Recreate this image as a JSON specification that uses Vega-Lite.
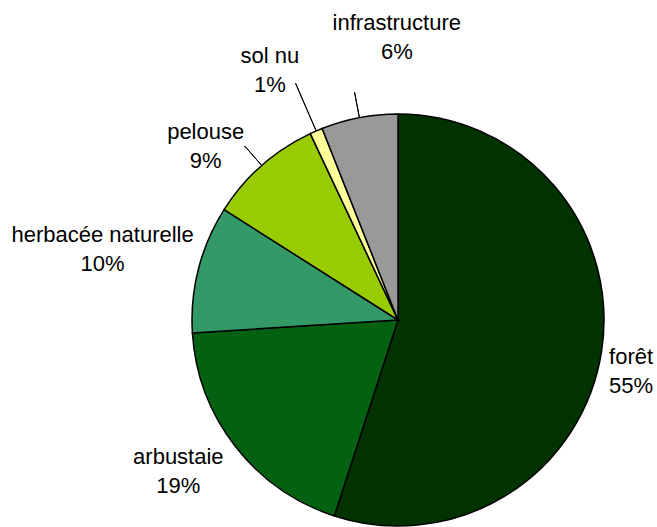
{
  "$schema": "https://vega.github.io/schema/vega-lite/v6.json",
  "width": 400,
  "height": 400,
  "autosize": "none",
  "padding": {"left": 198, "top": 120, "right": 59, "bottom": 7},
  "background": "white",
  "config": {"view": {"stroke": null}},
  "data": {
    "values": [
      {"name": "forêt", "share": 55},
      {"name": "arbustaie", "share": 19},
      {"name": "herbacée naturelle", "share": 10},
      {"name": "pelouse", "share": 9},
      {"name": "sol nu", "share": 1},
      {"name": "infrastructure", "share": 6}
    ]
  },
  "transform": [
    {"stack": "share", "groupby": [], "as": ["a0", "a1"]},
    {"calculate": "(datum.a0 + datum.a1) / 2", "as": "mid"},
    {"calculate": "datum.name + '\\n' + datum.share + '%'", "as": "label"}
  ],
  "layer": [
    {
      "mark": {"type": "arc", "outerRadius": 206, "stroke": "black", "strokeWidth": 1.5},
      "encoding": {
        "theta": {"field": "a0", "type": "quantitative", "scale": {"domain": [0, 100]}},
        "theta2": {"field": "a1"},
        "color": {
          "field": "name",
          "type": "nominal",
          "legend": null,
          "scale": {
            "domain": ["forêt", "arbustaie", "herbacée naturelle", "pelouse", "sol nu", "infrastructure"],
            "range": ["#003300", "#036211", "#339966", "#99cc00", "#ffff99", "#999999"]
          }
        }
      }
    },
    {
      "transform": [{"filter": "datum.name == 'pelouse' || datum.name == 'infrastructure'"}],
      "mark": {"type": "arc", "innerRadius": 206, "outerRadius": 232, "stroke": "black", "strokeWidth": 1, "fill": null},
      "encoding": {
        "theta": {"field": "mid", "type": "quantitative"},
        "theta2": {"field": "mid"}
      }
    },
    {
      "transform": [{"filter": "datum.name == 'sol nu'"}],
      "mark": {"type": "arc", "innerRadius": 206, "outerRadius": 258, "stroke": "black", "strokeWidth": 1, "fill": null},
      "encoding": {
        "theta": {"field": "mid", "type": "quantitative"},
        "theta2": {"field": "mid"}
      }
    },
    {
      "transform": [{"filter": "datum.name == 'forêt'"}],
      "mark": {"type": "text", "font": "Liberation Sans", "fontSize": 22, "lineHeight": 29, "lineBreak": "\n", "baseline": "middle", "align": "center"},
      "encoding": {
        "theta": {"field": "mid", "type": "quantitative"},
        "radius": {"value": 236},
        "text": {"field": "label"}
      }
    },
    {
      "transform": [{"filter": "datum.name == 'arbustaie'"}],
      "mark": {"type": "text", "font": "Liberation Sans", "fontSize": 22, "lineHeight": 29, "lineBreak": "\n", "baseline": "middle", "align": "center", "dy": -33},
      "encoding": {
        "theta": {"field": "mid", "type": "quantitative"},
        "radius": {"value": 278},
        "text": {"field": "label"}
      }
    },
    {
      "transform": [{"filter": "datum.name == 'herbacée naturelle'"}],
      "mark": {"type": "text", "font": "Liberation Sans", "fontSize": 22, "lineHeight": 29, "lineBreak": "\n", "baseline": "middle", "align": "center", "dy": -9},
      "encoding": {
        "theta": {"field": "mid", "type": "quantitative"},
        "radius": {"value": 305},
        "text": {"field": "label"}
      }
    },
    {
      "transform": [{"filter": "datum.name == 'pelouse'"}],
      "mark": {"type": "text", "font": "Liberation Sans", "fontSize": 22, "lineHeight": 29, "lineBreak": "\n", "baseline": "middle", "align": "center", "dx": -27},
      "encoding": {
        "theta": {"field": "mid", "type": "quantitative"},
        "radius": {"value": 250},
        "text": {"field": "label"}
      }
    },
    {
      "transform": [{"filter": "datum.name == 'sol nu'"}],
      "mark": {"type": "text", "font": "Liberation Sans", "fontSize": 22, "lineHeight": 29, "lineBreak": "\n", "baseline": "middle", "align": "center", "dx": -17, "dy": -7},
      "encoding": {
        "theta": {"field": "mid", "type": "quantitative"},
        "radius": {"value": 280},
        "text": {"field": "label"}
      }
    },
    {
      "transform": [{"filter": "datum.name == 'infrastructure'"}],
      "mark": {"type": "text", "font": "Liberation Sans", "fontSize": 22, "lineHeight": 29, "lineBreak": "\n", "baseline": "middle", "align": "center", "dx": 55, "dy": -2},
      "encoding": {
        "theta": {"field": "mid", "type": "quantitative"},
        "radius": {"value": 300},
        "text": {"field": "label"}
      }
    }
  ]
}
